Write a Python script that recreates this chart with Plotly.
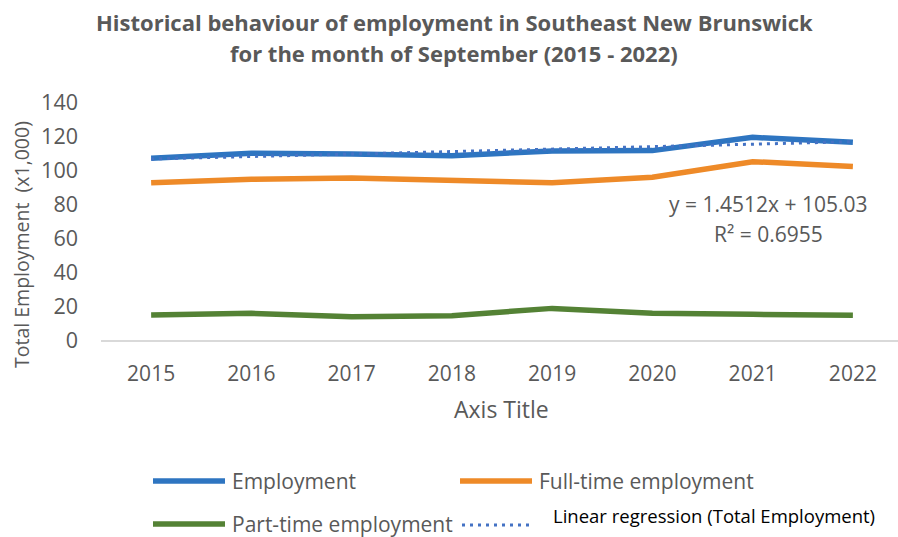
import plotly.graph_objects as go

years = ["2015", "2016", "2017", "2018", "2019", "2020", "2021", "2022"]
employment = [106.9, 109.8, 109.4, 108.4, 111.2, 111.4, 119.2, 116.3]
full_time = [92.5, 94.5, 95.3, 94.1, 92.5, 95.7, 104.9, 102.1]
part_time = [14.7, 15.7, 13.7, 14.3, 18.6, 15.7, 15.1, 14.5]
trend_slope = 1.4512
trend_intercept = 105.03
trend_r2 = 0.6955
trend_values = [trend_slope * (i + 1) + trend_intercept for i in range(len(years))]

W, H = 898, 537
L, R, T, B = 101, 0, 102, 197
PW, PH = W - L - R, H - T - B
FONT = "Open Sans"
GRAY = "#595959"

C_EMP = "#2E75C1"
C_FT = "#EE8A28"
C_PT = "#548235"
C_TR = "#4472C4"


def px(x):
    return (x - L) / PW


def py(y):
    return (H - B - y) / PH


fig = go.Figure()
fig.add_trace(go.Scatter(x=years, y=employment, mode="lines", name="Employment",
                         line=dict(color=C_EMP, width=5.5)))
fig.add_trace(go.Scatter(x=years, y=full_time, mode="lines", name="Full-time employment",
                         line=dict(color=C_FT, width=5.5)))
fig.add_trace(go.Scatter(x=years, y=part_time, mode="lines", name="Part-time employment",
                         line=dict(color=C_PT, width=5.5)))
fig.add_trace(go.Scatter(x=years, y=trend_values, mode="lines",
                         name="Linear regression (Total Employment)",
                         line=dict(color=C_TR, width=3, dash="3px,5px")))

annotations = []
shapes = []

# Title (two lines)
annotations.append(dict(text="<b>Historical behaviour of employment in Southeast New Brunswick</b>",
                        xref="paper", yref="paper", x=px(454), y=py(22), xanchor="center",
                        yanchor="middle", showarrow=False, font=dict(family=FONT, size=22, color=GRAY)))
annotations.append(dict(text="<b>for the month of September (2015 - 2022)</b>",
                        xref="paper", yref="paper", x=px(454), y=py(53), xanchor="center",
                        yanchor="middle", showarrow=False, font=dict(family=FONT, size=22, color=GRAY)))

# Y-axis title
annotations.append(dict(text="Total Employment \u00a0(x1,000)", textangle=-90,
                        xref="paper", yref="paper", x=px(21), y=py(245), xanchor="center",
                        yanchor="middle", showarrow=False, font=dict(family=FONT, size=19.5, color=GRAY)))
# X-axis title
annotations.append(dict(text="Axis Title", xref="paper", yref="paper", x=px(501), y=py(409),
                        xanchor="center", yanchor="middle", showarrow=False,
                        font=dict(family=FONT, size=23, color=GRAY)))

# Trendline equation
annotations.append(dict(text=f"y = {trend_slope}x + {trend_intercept}", xref="paper", yref="paper",
                        x=px(768), y=py(204), xanchor="center", yanchor="middle", showarrow=False,
                        font=dict(family=FONT, size=21, color=GRAY)))
annotations.append(dict(text=f"R\u00b2 = {trend_r2}", xref="paper", yref="paper",
                        x=px(768), y=py(234), xanchor="center", yanchor="middle", showarrow=False,
                        font=dict(family=FONT, size=21, color=GRAY)))

# Manual legend
legend_items = [
    ("Employment", C_EMP, 153, 481),
    ("Full-time employment", C_FT, 460, 481),
    ("Part-time employment", C_PT, 153, 524),
]
for name, col, x0, yy in legend_items:
    shapes.append(dict(type="line", xref="paper", yref="paper", x0=px(x0), x1=px(x0 + 72),
                       y0=py(yy), y1=py(yy), line=dict(color=col, width=5.5)))
    annotations.append(dict(text=name, xref="paper", yref="paper", x=px(x0 + 77), y=py(yy),
                            xanchor="left", yanchor="middle", showarrow=False,
                            font=dict(family=FONT, size=21, color=GRAY)))
shapes.append(dict(type="line", xref="paper", yref="paper", x0=px(462), x1=px(530),
                   y0=py(525), y1=py(525), line=dict(color=C_TR, width=3, dash="3px,5px")))
annotations.append(dict(text="Linear regression (Total Employment)", xref="paper", yref="paper",
                        x=px(551), y=py(515), xanchor="left", yanchor="middle", showarrow=False,
                        font=dict(family=FONT, size=18.5, color="#000000")))

fig.update_layout(
    width=W, height=H,
    margin=dict(l=L, r=R, t=T, b=B),
    paper_bgcolor="white", plot_bgcolor="white",
    showlegend=False,
    font=dict(family=FONT, color=GRAY),
    annotations=annotations,
    shapes=shapes,
)
fig.update_xaxes(type="category", range=[-0.5, 7.45], showgrid=False, showline=True,
                 linecolor="#D9D9D9", linewidth=1.5, ticks="", zeroline=False,
                 tickfont=dict(family=FONT, size=21, color=GRAY), ticklabelstandoff=14)
fig.update_yaxes(range=[0, 140], dtick=20, showgrid=False, zeroline=False, showline=False,
                 ticks="", tickfont=dict(family=FONT, size=21.5, color=GRAY), ticklabelstandoff=22)

fig.write_html("out.html")
